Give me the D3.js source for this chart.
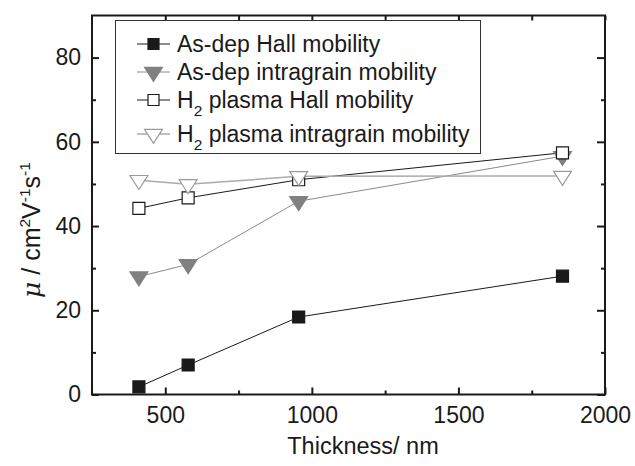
<!DOCTYPE html>
<html>
<head>
<meta charset="utf-8">
<script src="https://cdn.jsdelivr.net/npm/d3@7"></script>
<style>
  html, body { margin: 0; padding: 0; background: #fff; }
  svg { display: block; font-family: "Liberation Sans", Arial, Helvetica, sans-serif; }
</style>
</head>
<body>
<svg id="chart" width="635" height="466"></svg>
<script>
// Film thickness (nm)
const thickness = [410, 578, 955, 1855];

// Mobility series (cm^2 V^-1 s^-1)
const asDepHall = [1.8, 7.0, 18.4, 28.1];
const asDepIntragrain = [28.0, 30.9, 45.9, 56.6];
const h2Hall = [44.2, 46.7, 51.0, 57.4];
const h2Intragrain = [50.9, 49.9, 51.8, 51.9];

const xTicks = [500, 1000, 1500, 2000];
const xMinorTicks = [750, 1250, 1750];
const yTicks = [0, 20, 40, 60, 80];
const yMinorTicks = [10, 30, 50, 70];

const svg = d3.select("#chart");
const margin = { left: 92, right: 30, top: 15.5, bottom: 71.5 };
const W = 635, H = 466;

const x = d3.scaleLinear().domain([250, 2000]).range([margin.left, W - margin.right]);
const y = d3.scaleLinear().domain([0, 90]).range([H - margin.bottom, margin.top]);

const series = [
  { name: "As-dep Hall mobility", values: asDepHall, marker: "square", fill: "#1a1a1a", stroke: "#1a1a1a", line: "#1a1a1a", lw: 1 },
  { name: "As-dep intragrain mobility", values: asDepIntragrain, marker: "tri", fill: "#808080", stroke: "#808080", line: "#8a8a8a", lw: 1 },
  { name: "H2 plasma Hall mobility", values: h2Hall, marker: "square", fill: "#fff", stroke: "#1a1a1a", line: "#1a1a1a", lw: 1 },
  { name: "H2 plasma intragrain mobility", values: h2Intragrain, marker: "tri", fill: "#fff", stroke: "#9a9a9a", line: "#ababab", lw: 1.5 }
];

// Marker path generators, centred on the data point (triangle on its centroid)
function markerPath(type, s) {
  if (type === "square") {
    const h = s / 2;
    return `M${-h},${-h}H${h}V${h}H${-h}Z`;
  }
  const w = s * 0.64, hgt = s * 1.0;
  return `M${-w},${-hgt / 3}L${w},${-hgt / 3}L0,${2 * hgt / 3}Z`;
}

const plot = svg.append("g");

// Lines and markers drawn series by series
series.forEach(s => {
  const pts = thickness.map((t, i) => [t, s.values[i]]);
  plot.append("path")
    .datum(pts)
    .attr("fill", "none")
    .attr("stroke", s.line)
    .attr("stroke-width", s.lw)
    .attr("d", d3.line().x(d => x(d[0])).y(d => y(d[1])));
});
series.forEach(s => {
  const pts = thickness.map((t, i) => [t, s.values[i]]);
  const size = s.marker === "square" ? 12 : 14;
  plot.selectAll(null)
    .data(pts)
    .join("path")
    .attr("transform", d => `translate(${x(d[0])},${y(d[1])})`)
    .attr("d", markerPath(s.marker, size))
    .attr("fill", s.fill)
    .attr("stroke", s.stroke)
    .attr("stroke-width", 1.2);
});

// Axes: labelled bottom/left, mirrored ticks on top/right, all pointing inward
const axisColor = "#1a1a1a";
const tickFont = 23;
function styleAxis(g) {
  g.select(".domain").remove();
  g.selectAll("line").attr("stroke", axisColor).attr("stroke-width", 2);
  g.selectAll("text").attr("fill", "#1a1a1a").style("font-size", tickFont + "px");
}

const yBottom = y(0), yTop = y(90), xLeft = x(250), xRight = x(2000);

svg.append("g").attr("transform", `translate(0,${yBottom})`)
  .call(d3.axisBottom(x).tickValues(xTicks).tickSize(-7).tickPadding(12).tickFormat(d3.format("d")))
  .call(styleAxis);
svg.append("g").attr("transform", `translate(0,${yBottom})`)
  .call(d3.axisBottom(x).tickValues(xMinorTicks).tickSize(-4).tickFormat(""))
  .call(styleAxis);
svg.append("g").attr("transform", `translate(0,${yTop})`)
  .call(d3.axisTop(x).tickValues(xTicks.concat(xMinorTicks)).tickSize(-5).tickFormat(""))
  .call(styleAxis);

svg.append("g").attr("transform", `translate(${xLeft},0)`)
  .call(d3.axisLeft(y).tickValues(yTicks).tickSize(-7).tickPadding(11))
  .call(styleAxis);
svg.append("g").attr("transform", `translate(${xLeft},0)`)
  .call(d3.axisLeft(y).tickValues(yMinorTicks).tickSize(-4).tickFormat(""))
  .call(styleAxis);
svg.append("g").attr("transform", `translate(${xRight},0)`)
  .call(d3.axisRight(y).tickValues(yTicks).tickSize(-8).tickFormat(""))
  .call(styleAxis);
svg.append("g").attr("transform", `translate(${xRight},0)`)
  .call(d3.axisRight(y).tickValues(yMinorTicks).tickSize(-4).tickFormat(""))
  .call(styleAxis);

// Frame
svg.append("rect")
  .attr("x", xLeft).attr("y", yTop)
  .attr("width", xRight - xLeft).attr("height", yBottom - yTop)
  .attr("fill", "none").attr("stroke", axisColor).attr("stroke-width", 2);

// Axis titles
svg.append("text")
  .attr("x", 363).attr("y", 454)
  .attr("text-anchor", "middle")
  .attr("fill", "#1a1a1a")
  .style("font-size", "23.5px")
  .text("Thickness/ nm");

const yl = svg.append("text")
  .attr("transform", "translate(40,230) rotate(-90)")
  .attr("text-anchor", "middle")
  .attr("fill", "#1a1a1a")
  .style("font-size", "25px");
yl.append("tspan").style("font-style", "italic").style("font-family", "'DejaVu Serif', 'Liberation Serif', serif").text("\u03bc");
yl.append("tspan").text(" / cm");
yl.append("tspan").attr("dy", -10).style("font-size", "15.5px").text("2");
yl.append("tspan").attr("dy", 10).text("V");
yl.append("tspan").attr("dy", -10).style("font-size", "15.5px").text("-1");
yl.append("tspan").attr("dy", 10).text("s");
yl.append("tspan").attr("dy", -10).style("font-size", "15.5px").text("-1");

// Legend
const legend = svg.append("g");
legend.append("rect")
  .attr("x", 115.5).attr("y", 20.5).attr("width", 365).attr("height", 133)
  .attr("fill", "#fff").attr("stroke", "#333").attr("stroke-width", 1);

const rowY = [44, 72, 100, 134];
series.forEach((s, i) => {
  const g = legend.append("g").attr("transform", `translate(0,${rowY[i]})`);
  g.append("line").attr("x1", 137).attr("x2", 170).attr("y1", 0).attr("y2", 0)
    .attr("stroke", s.line).attr("stroke-width", s.lw);
  g.append("path").attr("transform", "translate(153.5,0)")
    .attr("d", markerPath(s.marker, s.marker === "square" ? 11 : 14))
    .attr("fill", s.fill).attr("stroke", s.stroke).attr("stroke-width", 1.2);
  const t = g.append("text").attr("x", 177).attr("y", 7.5)
    .attr("fill", "#1a1a1a").style("font-size", "23px");
  if (s.name.startsWith("H2")) {
    t.append("tspan").text("H");
    t.append("tspan").attr("dy", 8).style("font-size", "15.5px").text("2");
    t.append("tspan").attr("dy", -8).text(" " + s.name.slice(3));
  } else {
    t.text(s.name);
  }
});
</script>
</body>
</html>
